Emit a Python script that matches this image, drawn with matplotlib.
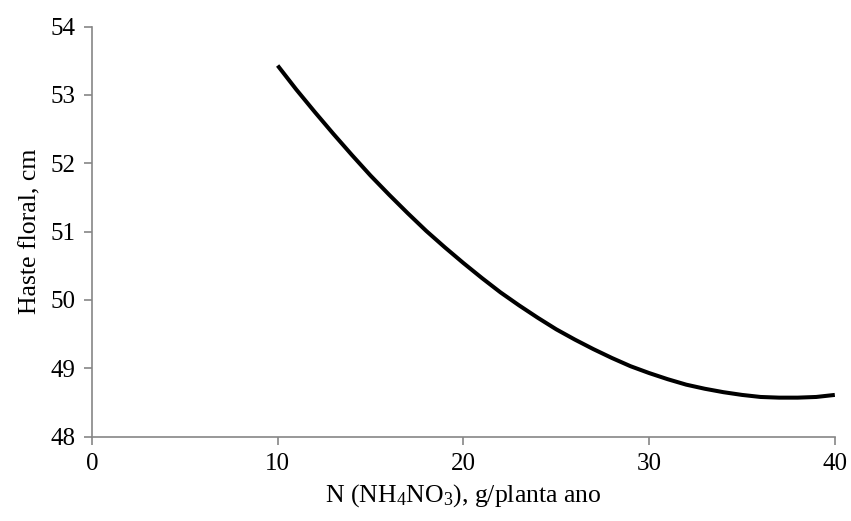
import matplotlib.pyplot as plt

# values (N dose vs. floral stem length), one per unit of N
n_dose = [10, 11, 12, 13, 14, 15, 16, 17, 18, 19, 20, 21, 22, 23, 24, 25,
          26, 27, 28, 29, 30, 31, 32, 33, 34, 35, 36, 37, 38, 39, 40]
haste = [53.43, 53.08, 52.75, 52.43, 52.12, 51.82, 51.54, 51.27, 51.01, 50.77,
         50.54, 50.32, 50.11, 49.92, 49.74, 49.57, 49.42, 49.28, 49.15, 49.03,
         48.93, 48.84, 48.76, 48.70, 48.65, 48.61, 48.58, 48.57, 48.57, 48.58, 48.61]

x_ticks = [0, 10, 20, 30, 40]
y_ticks = [48, 49, 50, 51, 52, 53, 54]

plt.rcParams['font.family'] = ['Liberation Serif', 'DejaVu Serif']
plt.rcParams['mathtext.fontset'] = 'custom'
plt.rcParams['mathtext.rm'] = 'Liberation Serif'
axis_grey = '#868686'

fig = plt.figure(figsize=(8.51, 5.21), dpi=100)
ax = fig.add_axes([0.108, 0.162, 0.873, 0.787])

ax.plot(n_dose, haste, color='black', linewidth=2.9, solid_capstyle='butt')

ax.set_xlim(0, 40)
ax.set_ylim(48, 54)
ax.set_xticks(x_ticks)
ax.set_yticks(y_ticks)

for side in ['top', 'right']:
    ax.spines[side].set_visible(False)
for side in ['left', 'bottom']:
    ax.spines[side].set_color(axis_grey)
    ax.spines[side].set_linewidth(1.2)

ax.tick_params(axis='both', colors=axis_grey, length=6, width=1.2, labelsize=18,
               labelcolor='black', direction='out', pad=6)

ax.set_xlabel(r'N (NH$\mathregular{_4}$NO$\mathregular{_3}$), g/planta ano', fontsize=18.5, labelpad=5)
ax.set_ylabel('Haste floral, cm', fontsize=18.5, labelpad=6)

fig.savefig('out.png', dpi=100)
